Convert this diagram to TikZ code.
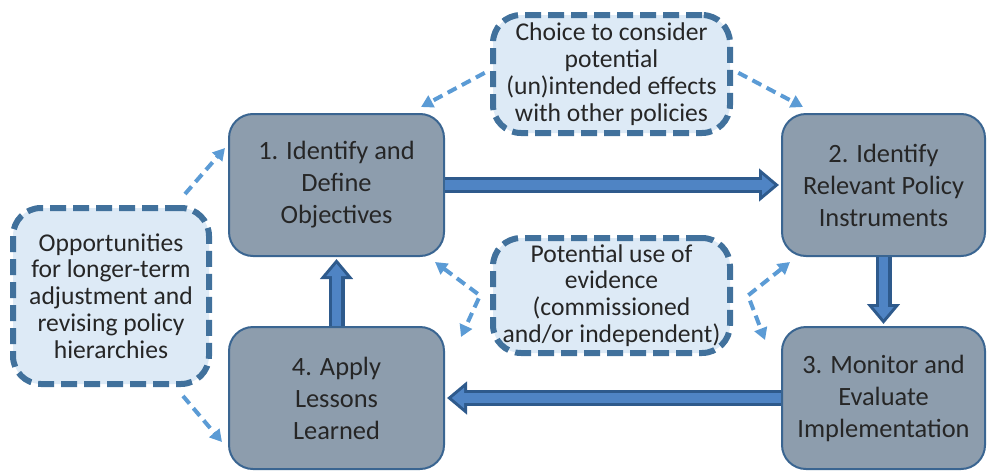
\documentclass[tikz,border=0pt]{standalone}
\usepackage{fontspec}
\setmainfont{Carlito}
\usetikzlibrary{arrows.meta}
\usetikzlibrary{positioning}
\definecolor{stagefill}{HTML}{8D9DAD}
\definecolor{stageedge}{HTML}{3A6591}
\definecolor{flowfill}{HTML}{4F84C4}
\definecolor{flowedge}{HTML}{2E5A8C}
\definecolor{notefill}{HTML}{DDEAF6}
\definecolor{noteedge}{HTML}{41719C}
\definecolor{hintblue}{HTML}{5B9BD5}
\definecolor{inkgray}{HTML}{262626}
\tikzset{
    stage/.style={
           rectangle,
           rounded corners=12pt,
           draw=stageedge, line width=1pt,
           fill=stagefill,
           minimum width=107.5pt,
           minimum height=71pt,
           text=inkgray, align=center,
           font=\fontsize{13.2}{16}\selectfont,
           },
    note/.style={
           rectangle,
           rounded corners=14pt,
           draw=noteedge, line width=3pt,
           dash pattern=on 8pt off 3.5pt,
           fill=notefill,
           inner sep=1pt,
           text=inkgray, align=center,
           font=\fontsize{12.8}{13.4}\selectfont,
           },
    flow/.style={line width=8pt, draw=flowedge, shorten >=1pt,
           -{Triangle[length=10pt,width=16pt]}},
    flowin/.style={line width=4.6pt, draw=flowfill, shorten >=3.4pt,
           -{Triangle[length=6.1pt,width=9.8pt]}},
    hint/.style={draw=hintblue, line width=2pt, dash pattern=on 5pt off 3pt},
}
\begin{document}
\begin{tikzpicture}[>={Triangle[length=6pt,width=6.5pt]}]
    \useasboundingbox (0,0) rectangle (494pt,-235.5pt);

    % four stages of the cycle
    \node[stage] (define) at (168.25pt,-92.5pt)
            {1. Identify and\\ Define\\ Objectives};
    \node[stage,minimum width=101.5pt] (instruments) [right=168pt of define]
            {2. Identify\\ Relevant Policy\\ Instruments};
    \node[stage] (apply) [below=34.5pt of define]
            {4. Apply\\ Lessons\\ Learned};
    \node[stage,minimum width=101.5pt] (monitor) [below=34.5pt of instruments]
            {3. Monitor and\\ Evaluate\\ Implementation};

    % dashed side notes
    \node[note,minimum width=118.5pt,minimum height=59pt] (choice) at (305.75pt,-37pt)
            {Choice to consider\\ potential\\ (un)intended effects\\ with other policies};
    \node[note,minimum width=118.5pt,minimum height=57.5pt] (evidence) at (305.75pt,-147.75pt)
            {Potential use of\\ evidence\\ (commissioned\\ and/or independent)};
    \node[note,minimum width=98pt,minimum height=88pt] (lessons) at (55.5pt,-148pt)
            {Opportunities\\ for longer-term\\ adjustment and\\ revising policy\\ hierarchies};

    % main flow
    \path (define) edge[flow] (instruments);
    \path (define) edge[flowin] (instruments);
    \path (instruments) edge[flow] (monitor);
    \path (instruments) edge[flowin] (monitor);
    \path (monitor) edge[flow] (apply);
    \path (monitor) edge[flowin] (apply);
    \path (apply) edge[flow] (define);
    \path (apply) edge[flowin] (define);

    % free ends of the dashed hints
    \coordinate (choiceL) at ([yshift=2pt]choice.west);
    \coordinate (choiceR) at ([yshift=2pt]choice.east);
    \coordinate (toDefine) at ([xshift=-12pt,yshift=3pt]define.north east);
    \coordinate (toInstr) at ([xshift=11pt,yshift=3pt]instruments.north west);
    \coordinate (lessonsT) at ([xshift=-13.5pt,yshift=5.5pt]lessons.north east);
    \coordinate (lessonsB) at ([xshift=-14.5pt,yshift=-4.5pt]lessons.south east);
    \coordinate (toDefineW) at ([xshift=-1.5pt,yshift=-17.5pt]define.north west);
    \coordinate (toApplyW) at ([xshift=-3pt,yshift=14pt]apply.south west);
    \coordinate (elbowL) at ([xshift=-5pt]evidence.west);
    \coordinate (elbowR) at ([xshift=7.5pt]evidence.east);
    \coordinate (upL) at ([xshift=-5pt,yshift=-2.5pt]define.south east);
    \coordinate (downL) at ([xshift=8pt,yshift=-5.5pt]apply.north east);
    \coordinate (upR) at ([xshift=4.5pt,yshift=-2.5pt]instruments.south west);
    \coordinate (downR) at ([xshift=-8pt,yshift=-7pt]monitor.north west);

    \draw[hint,->,shorten <=3pt] (choiceL) -- (toDefine);
    \draw[hint,->,shorten <=3pt] (choiceR) -- (toInstr);
    \draw[hint,->] (lessonsT) -- (toDefineW);
    \draw[hint,->] (lessonsB) -- (toApplyW);
    \draw[hint,<->] (upL) -- (elbowL) -- (downL);
    \draw[hint,<->] (upR) -- (elbowR) -- (downR);
\end{tikzpicture}
\end{document}
